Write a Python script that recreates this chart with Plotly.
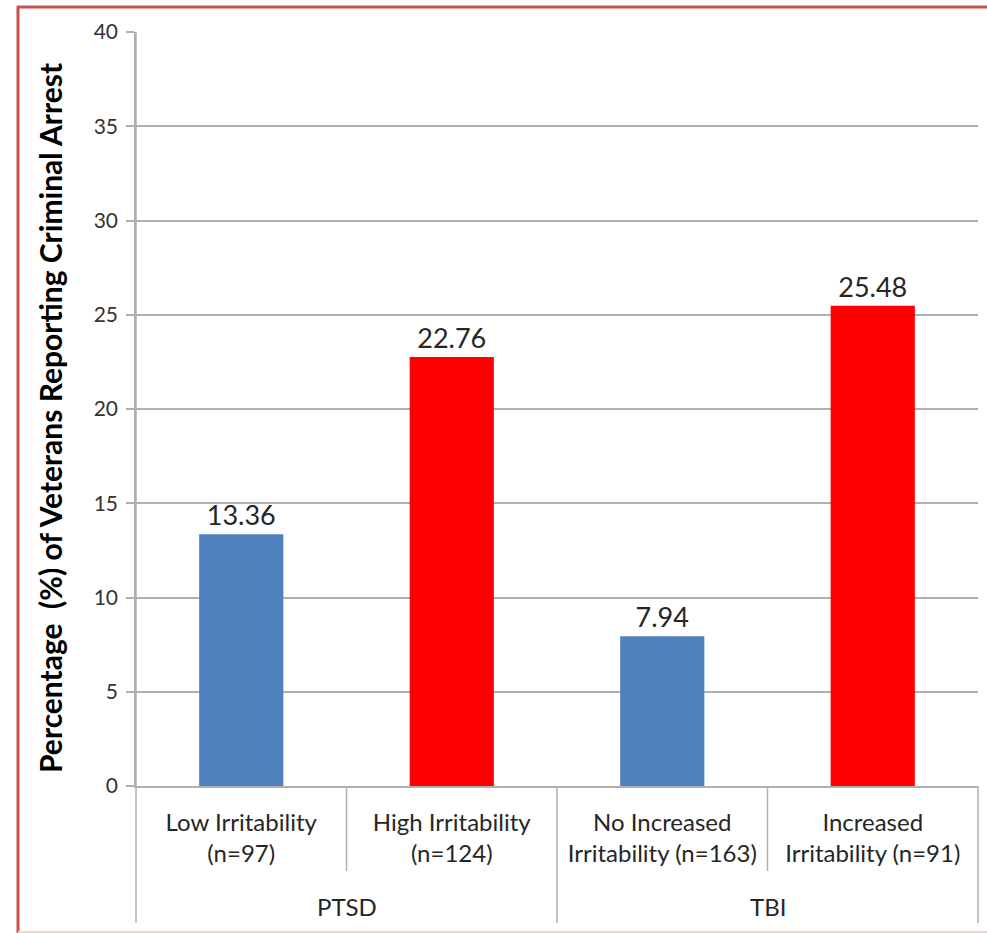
import plotly.graph_objects as go

# ---- data ----
categories = ["Low Irritability<br>(n=97)", "High Irritability<br>(n=124)",
              "No Increased<br>Irritability (n=163)", "Increased<br>Irritability (n=91)"]
groups = ["PTSD", "TBI"]
group_sizes = [2, 2]
values = [13.36, 22.76, 7.94, 25.48]
value_labels = ["13.36", "22.76", "7.94", "25.48"]
bar_colors = ["#4F81BD", "#FF0000", "#4F81BD", "#FF0000"]
y_ticks = [0, 5, 10, 15, 20, 25, 30, 35, 40]
y_title = "Percentage  (%) of Veterans Reporting Criminal Arrest"

FONT = "Lato"
W, H = 987, 933
L, R, T, B = 136, 9, 32, 147
pw, ph = W - L - R, H - T - B


def px_x(px):
    return (px - L) / pw


def px_y(py):
    return (H - B - py) / ph


GRID = "#B0B0B0"
TXT = "#262626"

fig = go.Figure()
fig.add_trace(go.Bar(
    x=categories, y=values, marker=dict(color=bar_colors, line=dict(width=0)),
    text=value_labels, textposition="outside", cliponaxis=False,
    textfont=dict(family=FONT, size=27, color=TXT),
    width=0.4, showlegend=False, hoverinfo="x+y",
))

shapes = []
n = len(categories)
# outer separators (group boundaries)
pos = 0
bounds = [0]
for s in group_sizes:
    pos += s
    bounds.append(pos)
# inner separators (between categories inside a group)
for i in range(1, n):
    if i in bounds:
        continue
    shapes.append(dict(type="line", xref="paper", yref="paper",
                       x0=i / n, x1=i / n, y0=0, y1=px_y(871),
                       line=dict(color=GRID, width=1.5)))
for b in bounds:
    shapes.append(dict(type="line", xref="paper", yref="paper",
                       x0=b / n, x1=b / n, y0=0 if b else 1, y1=px_y(923),
                       line=dict(color=GRID, width=1.5)))
# red frame
shapes.append(dict(type="line", xref="paper", yref="paper",
                   x0=px_x(18), x1=px_x(18), y0=px_y(6), y1=px_y(940),
                   line=dict(color="#C9504C", width=3)))
shapes.append(dict(type="line", xref="paper", yref="paper",
                   x0=px_x(17), x1=px_x(995), y0=px_y(7), y1=px_y(7),
                   line=dict(color="#C9504C", width=3)))
shapes.append(dict(type="line", xref="paper", yref="paper",
                   x0=px_x(18), x1=px_x(995), y0=px_y(932), y1=px_y(932),
                   line=dict(color="#F3D3D0", width=2)))

annotations = []
start = 0
for g, s in zip(groups, group_sizes):
    annotations.append(dict(text=g, xref="paper", yref="paper",
                            x=(start + s / 2) / n, y=px_y(906),
                            xanchor="center", yanchor="middle", showarrow=False,
                            font=dict(family=FONT, size=24, color=TXT)))
    start += s
annotations.append(dict(text=y_title, xref="paper", yref="paper",
                        x=px_x(50), y=px_y(418), textangle=-90,
                        xanchor="center", yanchor="middle", showarrow=False,
                        font=dict(family=FONT, size=30, color="#000000", weight="bold")))

fig.update_layout(
    width=W, height=H,
    margin=dict(l=L, r=R, t=T, b=B, pad=0),
    paper_bgcolor="white", plot_bgcolor="white",
    font=dict(family=FONT, color=TXT),
    shapes=shapes, annotations=annotations,
    bargap=0.6,
)
fig.update_xaxes(
    type="category", showgrid=False, showline=True, linecolor=GRID, linewidth=1.5,
    ticks="", tickfont=dict(family=FONT, size=24, color=TXT),
    ticklabelstandoff=14, range=[-0.5, n - 0.5],
)
fig.update_yaxes(
    range=[0, 40], tickvals=y_ticks, showgrid=True, gridcolor=GRID, gridwidth=1.5,
    showline=True, linecolor=GRID, linewidth=1.5, zeroline=False,
    ticks="outside", ticklen=8, tickcolor=GRID, tickwidth=1.5,
    ticklabelstandoff=4,
    tickfont=dict(family=FONT, size=21, color="#333333"),
)

fig.write_html("out.html", config={"displayModeBar": False},
               post_script="document.body.style.margin='0';")
